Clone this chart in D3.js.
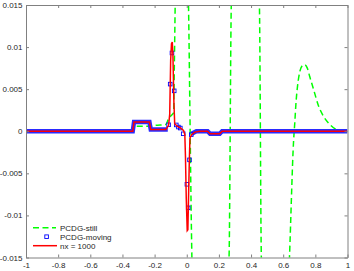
<!DOCTYPE html>
<html>
<head>
<meta charset="utf-8">
<script src="https://cdn.jsdelivr.net/npm/d3@7"></script>
<style>
  body { margin: 0; background: #fff; }
  text { font-family: "Liberation Sans", Arial, sans-serif; }
</style>
</head>
<body>
<div id="chart"></div>
<script>
// ticks
var xTicks = [-1, -0.8, -0.6, -0.4, -0.2, 0, 0.2, 0.4, 0.6, 0.8, 1];
var yTicks = [-0.015, -0.01, -0.005, 0, 0.005, 0.01, 0.015];

// PCDG-still (green dashed), goes off the axes between crossings
var stillX = [-1, -0.34, -0.325, -0.22, -0.2, -0.13, -0.113, -0.095, -0.082, -0.077, -0.072, -0.03,
  0.011, 0.032, 0.1, 0.263, 0.277, 0.36, 0.452, 0.464, 0.55, 0.639, 0.665, 0.672, 0.68, 0.69, 0.705,
  0.72, 0.734, 0.75, 0.765, 0.79, 0.82, 0.85, 0.89, 0.93, 0.96, 1];
var stillY = [0, 0, 0.0006, 0.0006, 0.0007, 0.0008, 0.0015, 0.0019, 0.0022, 0.008, 0.015, 0.05,
  0.015, -0.015, -0.05, -0.015, 0.015, 0.05, 0.015, -0.015, -0.05, -0.015, -0.001, 0.001, 0.0035, 0.0055, 0.0072,
  0.0078, 0.0079, 0.0075, 0.0065, 0.0049, 0.003, 0.0018, 0.0008, 0.0002, 0, 0];

// PCDG-moving: dense marker band on the smooth parts, single markers near the spikes
var bandLeftX = [-1, -0.336, -0.328, -0.232, -0.224, -0.118];
var bandLeftY = [0, 0, 0.0011, 0.0011, 0.0002, 0.0002];
var bandRightX = [0.03, 0.06, 0.13, 0.145, 0.205, 0.22, 1];
var bandRightY = [-0.0003, 0, 0, -0.0003, -0.0003, 0, 0];
var moveX = [-0.113, -0.103, -0.092, -0.078, -0.065, -0.052, -0.040, -0.022, 0.001, 0.009, 0.017, 0.028];
var moveY = [0.00077, 0.0056, 0.0093, 0.0048, 0.00075, 0.0005, 0.00038, -0.0003, -0.0063, -0.0091, -0.0034, -0.0004];

// nx = 1000 (red)
var refX = [-1, -0.336, -0.328, -0.232, -0.224, -0.13, -0.113, -0.106, -0.1, -0.095, -0.09, -0.086, -0.08,
  -0.075, -0.06, -0.04, -0.02, -0.012, -0.008, -0.003, 0.003, 0.007, 0.011, 0.016, 0.02, 0.03, 0.05, 0.08,
  0.13, 0.145, 0.205, 0.22, 1];
var refY = [0, 0, 0.0011, 0.0011, 0.0002, 0.0002, 0.0007, 0.002, 0.0085, 0.0104, 0.0106, 0.009, 0.0035,
  0.0009, 0.0006, 0.0004, 0.0001, -0.0004, -0.003, -0.008, -0.0118, -0.0117, -0.008, -0.0035, -0.0008, -0.0004, -0.0001, 0,
  0, -0.0003, -0.0003, 0, 0];

var legendLabels = ["PCDG-still", "PCDG-moving", "nx = 1000"];

(function() {
  var W = 354, H = 271;
  var pL = 26, pR = 347.5, pT = 5, pB = 257.5;

  var x = d3.scaleLinear().domain([-1, 1]).range([pL, pR]);
  var y = d3.scaleLinear().domain([-0.015, 0.015]).range([pB, pT]);

  var svg = d3.select("#chart").append("svg")
      .attr("width", W)
      .attr("height", H);

  svg.append("defs").append("clipPath")
      .attr("id", "plotClip")
    .append("rect")
      .attr("x", pL).attr("y", pT)
      .attr("width", pR - pL).attr("height", pB - pT);

  function pairs(xs, ys) {
    return xs.map(function(v, i) { return [v, ys[i]]; });
  }

  var line = d3.line()
      .x(function(d) { return x(d[0]); })
      .y(function(d) { return y(d[1]); });
  var smoothLine = d3.line()
      .curve(d3.curveMonotoneX)
      .x(function(d) { return x(d[0]); })
      .y(function(d) { return y(d[1]); });

  var plot = svg.append("g").attr("clip-path", "url(#plotClip)");

  // green dashed
  plot.append("path")
      .datum(pairs(stillX, stillY))
      .attr("d", smoothLine)
      .attr("fill", "none")
      .attr("stroke", "#00ff00")
      .attr("stroke-width", 1.5)
      .attr("stroke-dasharray", "6,3.5");

  // blue marker band
  [pairs(bandLeftX, bandLeftY), pairs(bandRightX, bandRightY)].forEach(function(b) {
    plot.append("path")
        .datum(b)
        .attr("d", line)
        .attr("fill", "none")
        .attr("stroke", "#2a2aff")
        .attr("stroke-width", 4.4);
  });

  plot.selectAll("rect.mk")
      .data(pairs(moveX, moveY))
    .enter().append("rect")
      .attr("class", "mk")
      .attr("x", function(d) { return x(d[0]) - 1.8; })
      .attr("y", function(d) { return y(d[1]) - 1.8; })
      .attr("width", 3.6)
      .attr("height", 3.6)
      .attr("fill", "none")
      .attr("stroke", "#0000ff")
      .attr("stroke-width", 0.9);

  // red reference line
  plot.append("path")
      .datum(pairs(refX, refY))
      .attr("d", line)
      .attr("fill", "none")
      .attr("stroke", "#ff0000")
      .attr("stroke-width", 1.5);

  // axes box with inward ticks
  var axisColor = "#808080";
  var textColor = "#262626";
  var fmt = function(d) { return String(+d.toFixed(3)); };

  var gB = svg.append("g").attr("transform", "translate(0," + pB + ")")
      .call(d3.axisBottom(x).tickValues(xTicks).tickSizeInner(-3).tickSizeOuter(0).tickFormat(fmt));
  var gT = svg.append("g").attr("transform", "translate(0," + pT + ")")
      .call(d3.axisTop(x).tickValues(xTicks).tickSizeInner(-3).tickSizeOuter(0).tickFormat(""));
  var gL = svg.append("g").attr("transform", "translate(" + pL + ",0)")
      .call(d3.axisLeft(y).tickValues(yTicks).tickSizeInner(-3).tickSizeOuter(0).tickFormat(fmt));
  var gR = svg.append("g").attr("transform", "translate(" + pR + ",0)")
      .call(d3.axisRight(y).tickValues(yTicks).tickSizeInner(-3).tickSizeOuter(0).tickFormat(""));

  [gB, gT, gL, gR].forEach(function(g) {
    g.select(".domain").attr("stroke", axisColor);
    g.selectAll(".tick line").attr("stroke", axisColor);
    g.selectAll("text").attr("fill", textColor).attr("font-size", 8)
        .attr("font-family", "'Liberation Sans', Arial, sans-serif");
  });
  gB.selectAll("text").attr("dy", null).attr("y", 10.5);
  gL.selectAll("text").attr("x", -3.5);

  // legend
  var leg = svg.append("g");
  var ly = [227.7, 236.7, 245.7];
  leg.append("line")
      .attr("x1", 33).attr("x2", 56).attr("y1", ly[0]).attr("y2", ly[0])
      .attr("stroke", "#00ff00").attr("stroke-width", 1.5).attr("stroke-dasharray", "6,3.5");
  leg.append("rect")
      .attr("x", 44.8).attr("y", ly[1] - 1.8).attr("width", 3.6).attr("height", 3.6)
      .attr("fill", "none").attr("stroke", "#0000ff").attr("stroke-width", 0.9);
  leg.append("line")
      .attr("x1", 33).attr("x2", 57).attr("y1", ly[2]).attr("y2", ly[2])
      .attr("stroke", "#ff0000").attr("stroke-width", 1.5);
  leg.selectAll("text")
      .data(legendLabels)
    .enter().append("text")
      .attr("x", 60)
      .attr("y", function(d, i) { return ly[i] + 3; })
      .attr("font-size", 8)
      .attr("fill", textColor)
      .text(function(d) { return d; });
})();
</script>
</body>
</html>
